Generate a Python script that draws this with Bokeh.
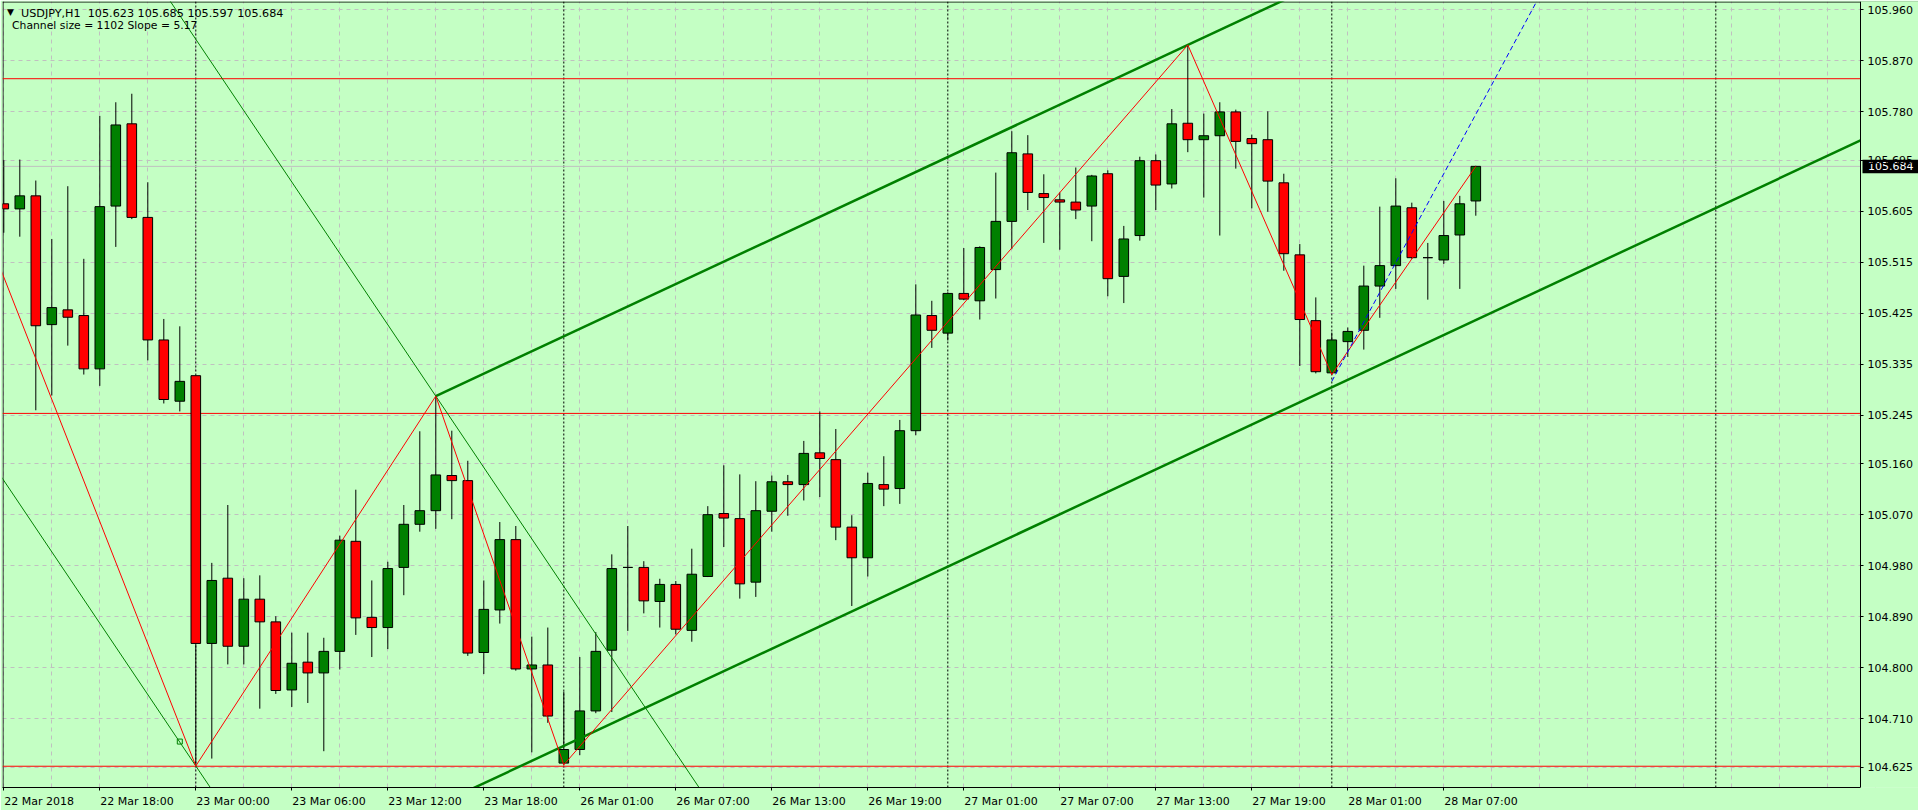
from bokeh.plotting import figure
from bokeh.models import (Range1d, FixedTicker, PrintfTickFormatter, Span, ColumnDataSource,
                          LinearAxis, Grid)
from bokeh.embed import file_html
from bokeh.resources import INLINE
from bokeh.core.properties import value

# ---------------- data (USDJPY H1, bar index 0 = 22 Mar 12:00) ----------------
opens = [105.618, 105.609, 105.632, 105.405, 105.431, 105.421, 105.327, 105.614, 105.759, 105.594,
         105.378, 105.270, 105.315, 104.843, 104.958, 104.838, 104.921, 104.881, 104.761, 104.810,
         104.791, 104.829, 105.023, 104.889, 104.871, 104.977, 105.053, 105.077, 105.139, 105.130,
         104.827, 104.902, 105.026, 104.798, 104.805, 104.632, 104.656, 104.724, 104.831, 104.977,
         104.977, 104.917, 104.947, 104.866, 104.961, 105.072, 105.063, 104.951, 105.076, 105.128,
         105.123, 105.179, 105.167, 105.048, 104.994, 105.123, 105.116, 105.218, 105.421, 105.390,
         105.460, 105.447, 105.502, 105.587, 105.706, 105.636, 105.625, 105.621, 105.614, 105.671,
         105.490, 105.562, 105.694, 105.653, 105.760, 105.731, 105.738, 105.780, 105.733, 105.731,
         105.655, 105.528, 105.412, 105.320, 105.375, 105.395, 105.473, 105.509, 105.611, 105.523,
         105.519, 105.563, 105.623]
highs = [105.695, 105.696, 105.659, 105.556, 105.649, 105.521, 105.773, 105.797, 105.812, 105.656,
         105.415, 105.402, 105.315, 104.985, 105.087, 104.958, 104.963, 104.891, 104.862, 104.862,
         104.853, 105.033, 105.114, 104.954, 104.987, 105.087, 105.217, 105.279, 105.218, 105.165,
         104.954, 105.057, 105.050, 104.855, 104.871, 104.758, 104.819, 104.863, 105.000, 105.050,
         104.988, 104.957, 104.953, 105.010, 105.085, 105.157, 105.141, 105.129, 105.139, 105.140,
         105.200, 105.252, 105.221, 105.069, 105.144, 105.173, 105.237, 105.476, 105.447, 105.462,
         105.540, 105.543, 105.673, 105.746, 105.739, 105.670, 105.638, 105.682, 105.669, 105.677,
         105.579, 105.701, 105.705, 105.785, 105.898, 105.777, 105.797, 105.784, 105.740, 105.781,
         105.671, 105.547, 105.453, 105.391, 105.400, 105.509, 105.613, 105.663, 105.620, 105.549,
         105.623, 105.632, 105.685]
lows = [105.567, 105.560, 105.254, 105.280, 105.368, 105.317, 105.297, 105.542, 105.591, 105.342,
        105.266, 105.252, 104.627, 104.640, 104.806, 104.806, 104.728, 104.754, 104.731, 104.738,
        104.653, 104.797, 104.858, 104.819, 104.833, 104.928, 105.040, 105.045, 105.062, 104.821,
        104.789, 104.878, 104.795, 104.651, 104.703, 104.629, 104.646, 104.720, 104.722, 104.865,
        104.896, 104.871, 104.859, 104.846, 104.960, 105.013, 104.922, 104.925, 105.040, 105.068,
        105.095, 105.101, 105.025, 104.909, 104.961, 105.085, 105.089, 105.210, 105.364, 105.377,
        105.448, 105.414, 105.451, 105.538, 105.607, 105.549, 105.537, 105.591, 105.552, 105.455,
        105.443, 105.553, 105.607, 105.645, 105.709, 105.629, 105.562, 105.680, 105.610, 105.604,
        105.500, 105.332, 105.319, 105.317, 105.348, 105.361, 105.417, 105.468, 105.521, 105.449,
        105.512, 105.468, 105.597]
closes = [105.609, 105.632, 105.403, 105.435, 105.418, 105.327, 105.613, 105.757, 105.594, 105.378,
          105.273, 105.305, 104.843, 104.954, 104.838, 104.921, 104.881, 104.760, 104.808, 104.791,
          104.829, 105.025, 104.888, 104.871, 104.975, 105.053, 105.077, 105.140, 105.130, 104.826,
          104.903, 105.026, 104.798, 104.805, 104.715, 104.656, 104.724, 104.829, 104.975, 104.977,
          104.918, 104.947, 104.868, 104.965, 105.070, 105.064, 104.948, 105.077, 105.128, 105.123,
          105.178, 105.169, 105.048, 104.994, 105.125, 105.115, 105.218, 105.422, 105.395, 105.460,
          105.450, 105.541, 105.587, 105.708, 105.638, 105.629, 105.621, 105.607, 105.667, 105.486,
          105.556, 105.694, 105.651, 105.759, 105.731, 105.738, 105.780, 105.728, 105.724, 105.658,
          105.530, 105.414, 105.322, 105.378, 105.393, 105.473, 105.509, 105.614, 105.523, 105.523,
          105.562, 105.618, 105.684]
bars = list(range(len(opens)))

# x-axis labels (bar index -> text)
label_bars = [0, 6, 12, 18, 24, 30, 36, 42, 48, 54, 60, 66, 72, 78, 84, 90]
label_texts = ["22 Mar 2018", "22 Mar 18:00", "23 Mar 00:00", "23 Mar 06:00", "23 Mar 12:00",
               "23 Mar 18:00", "26 Mar 01:00", "26 Mar 07:00", "26 Mar 13:00", "26 Mar 19:00",
               "27 Mar 01:00", "27 Mar 07:00", "27 Mar 13:00", "27 Mar 19:00", "28 Mar 01:00",
               "28 Mar 07:00"]
# price axis labels
price_ticks = [105.960, 105.870, 105.780, 105.695, 105.605, 105.515, 105.425, 105.335, 105.245,
               105.160, 105.070, 104.980, 104.890, 104.800, 104.710, 104.625]
day_separators = [12, 35, 59, 83, 107]
red_levels = [105.8385, 105.2485, 104.6265]
bid_price = 105.684

# zigzag vertices (bar, price)
zz_bars = [-4, 12, 27, 35, 74, 83, 92]
zz_prices = [105.776, 104.627, 105.279, 104.629, 105.898, 105.317, 105.684]
# equidistant channel: two highs on the upper line, width in price
ch_bars = [27, 74]
ch_prices = [105.279, 105.898]
ch_width = 0.722
# thin parallel lines: through the bar-27 high and the bar-12 low
tl_bars = [11.21, 27]
tl_prices = [105.9412, 105.279]
tl2_anchor_bar, tl2_anchor_price = 12, 104.627
square_bar, square_price = 11, 104.670
# blue dashed trend line
blue_bars = [83, 93.2]
blue_prices = [105.305, 105.8385]

symbol = "USDJPY,H1"
channel_text = "Channel size = 1102 Slope = 5.17"

# ---------------- figure geometry ----------------
BG = "#C4FFC4"
GREEN = "#008000"
RED = "#FF0000"
FONT = "DejaVu Sans"
AXIS_FS = 11.0                   # px

W, H = 1918, 810
PX_BAR = 16.0                    # pixels per bar
PX_PRICE = 0.0017606             # price per pixel
FRAME_L, FRAME_T, FRAME_B = 2, 1, 788


def bx(px):                      # page x pixel -> bar coordinate
    return (px - 3.3) / PX_BAR


def py(pix):                     # page y pixel -> price
    return 105.960 - (pix - 9.3) * PX_PRICE


X0, X1 = bx(FRAME_L), bx(W)
Y1, Y0 = py(FRAME_T), py(FRAME_B)
X_AXIS = bx(1860)

p = figure(width=W, height=H, x_range=Range1d(X0, X1), y_range=Range1d(Y0, Y1),
           y_axis_location=None, toolbar_location=None, output_backend="svg", title=None,
           min_border_left=FRAME_L, min_border_top=FRAME_T, min_border_right=0,
           min_border_bottom=H - FRAME_B,
           background_fill_color=BG, border_fill_color=BG, outline_line_color=None)

# ---------------- axes ----------------
yticker = FixedTicker(ticks=price_ticks)
yax = LinearAxis(fixed_location=X_AXIS, ticker=yticker, formatter=PrintfTickFormatter(format="%.3f"))
yax.major_label_text_font = FONT
yax.major_label_text_font_size = "%gpx" % AXIS_FS
yax.major_label_text_color = "black"
yax.major_tick_out = 3
yax.major_tick_in = 0
yax.minor_tick_out = 0
yax.minor_tick_in = 0
yax.major_label_standoff = 4
yax.axis_line_color = "black"
p.add_layout(yax, "right")

CW = {"0": 0.636, "1": 0.636, "2": 0.636, "3": 0.636, "4": 0.636, "5": 0.636, "6": 0.636,
      "7": 0.636, "8": 0.636, "9": 0.636, " ": 0.318, "M": 0.863, "a": 0.613, "r": 0.411, ":": 0.337}
centers = []
overrides = {}
for b, t in zip(label_bars, label_texts):
    w = sum(CW.get(ch, 0.6) for ch in t) * AXIS_FS
    c = round(b + (w / 2.0 + 0.5) / PX_BAR, 4)
    centers.append(c)
    overrides[c] = t
xa = p.xaxis[0]
xa.ticker = FixedTicker(ticks=centers, minor_ticks=label_bars)
xa.major_label_overrides = overrides
xa.bounds = (X0, X_AXIS)
xa.major_label_text_font = FONT
xa.major_label_text_font_size = "%gpx" % AXIS_FS
xa.major_label_text_color = "black"
xa.major_tick_out = 0
xa.major_tick_in = 0
xa.minor_tick_out = 3
xa.minor_tick_in = 0
xa.minor_tick_line_color = "black"
xa.major_label_standoff = 4
xa.axis_line_color = "black"

# ---------------- grid ----------------
p.xgrid.ticker = FixedTicker(ticks=list(range(0, 120, 3)))
if len(p.ygrid) == 0:
    p.add_layout(Grid(dimension=1, ticker=yticker), "center")
else:
    p.ygrid.ticker = yticker
for g in list(p.xgrid) + list(p.ygrid):
    g.grid_line_color = "#C0C0C0"
    g.grid_line_dash = "4 4"
    g.grid_line_width = 1

# ---------------- frame border, separators, levels (under candles) ----------------
p.add_layout(Span(location=X0 + 0.5 / PX_BAR, dimension="height", line_color="black",
                  line_width=1, level="underlay"))
p.add_layout(Span(location=Y1 - 0.5 * PX_PRICE, dimension="width", line_color="black",
                  line_width=1, level="underlay"))
for d in day_separators:
    p.add_layout(Span(location=d, dimension="height", line_color="black", line_dash="2 2",
                      line_width=1, level="underlay"))
p.add_layout(Span(location=bid_price, dimension="width", line_color="#C0C0C0", line_width=1,
                  level="underlay"))
for lv in red_levels:
    p.add_layout(Span(location=lv, dimension="width", line_color=RED, line_width=1,
                      level="underlay"))

# ---------------- candles ----------------
tops = [max(o, c) for o, c in zip(opens, closes)]
bots = [min(o, c) for o, c in zip(opens, closes)]
cols = [GREEN if c > o else (RED if c < o else "black") for o, c in zip(opens, closes)]
src = ColumnDataSource(dict(x=bars, o=opens, h=highs, l=lows, c=closes, top=tops, bottom=bots, color=cols))
p.segment(x0="x", y0="l", x1="x", y1="h", source=src, line_color="black", line_width=1)
p.vbar(x="x", width=0.6, top="top", bottom="bottom", source=src, fill_color="color",
       line_color="black", line_width=1)

# ---------------- objects ----------------
slope = (ch_prices[1] - ch_prices[0]) / (ch_bars[1] - ch_bars[0])
up_x = [ch_bars[0], X_AXIS]
up_y = [ch_prices[0], ch_prices[0] + slope * (X_AXIS - ch_bars[0])]
p.line(up_x, up_y, line_color=GREEN, line_width=2.5)
p.line(up_x, [v - ch_width for v in up_y], line_color=GREEN, line_width=2.5)

tslope = (tl_prices[1] - tl_prices[0]) / (tl_bars[1] - tl_bars[0])
l1x = [0, 50]
p.line(l1x, [tl_prices[1] + tslope * (x - tl_bars[1]) for x in l1x], line_color=GREEN, line_width=1)
l2x = [-2, 30]
p.line(l2x, [tl2_anchor_price + tslope * (x - tl2_anchor_bar) for x in l2x], line_color=GREEN, line_width=1)
p.scatter([square_bar], [square_price], marker="square", size=5, fill_color=None,
          line_color=GREEN, line_width=1)

p.line(zz_bars, zz_prices, line_color=RED, line_width=1)

bslope = (blue_prices[1] - blue_prices[0]) / (blue_bars[1] - blue_bars[0])
blx = [blue_bars[0], 110]
p.line(blx, [blue_prices[0] + bslope * (x - blue_bars[0]) for x in blx], line_color="#0000FF",
       line_width=1, line_dash="5 3")

# ---------------- price-scale area (right of the chart) ----------------
p.quad(left=[X_AXIS], right=[X1 + 1], bottom=[Y0 - 1], top=[Y1 + 1], fill_color=BG, line_color=None)
p.quad(left=[bx(1862)], right=[X1 + 1], bottom=[bid_price - 7 * PX_PRICE],
       top=[bid_price + 6.5 * PX_PRICE], fill_color="black", line_color=None)
p.text(x=[bx(1867.5)], y=[bid_price], text=["%.3f" % bid_price], text_font=value(FONT),
       text_font_size="%gpx" % AXIS_FS, text_color="white", text_align="left",
       text_baseline="middle")

# ---------------- header texts ----------------
o, h, l, c = opens[-1], highs[-1], lows[-1], closes[-1]
head1 = "%s\u00a0\u00a0%.3f %.3f %.3f %.3f" % (symbol, o, h, l, c)
p.text(x=[bx(6.5)], y=[py(12.0)], text=["\u25bc"], text_font=value(FONT), text_font_size="9px",
       text_color="black", text_align="left", text_baseline="middle")
p.text(x=[bx(20.5)], y=[py(12.7)], text=[head1], text_font=value(FONT), text_font_size="11.2px",
       text_color="black", text_align="left", text_baseline="middle")
p.text(x=[bx(11.5)], y=[py(25.0)], text=[channel_text], text_font=value(FONT),
       text_font_size="10.8px", text_color="black", text_align="left", text_baseline="middle")

open("out.html", "w").write(file_html(p, INLINE))
